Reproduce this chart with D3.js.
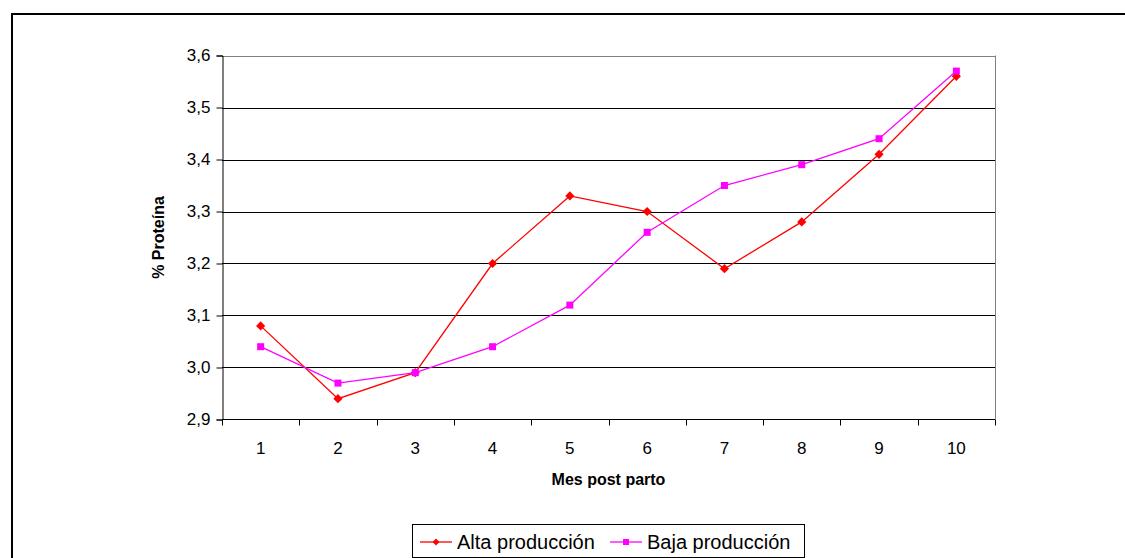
<!DOCTYPE html>
<html>
<head>
<meta charset="utf-8">
<script src="https://cdn.jsdelivr.net/npm/d3@7"></script>
<style>
  html, body { margin: 0; padding: 0; background: #fff; }
  svg { display: block; font-family: "Liberation Sans", Arial, sans-serif; }
</style>
</head>
<body>
<svg id="chart" width="1125" height="558"></svg>
<script>
// Months after calving
const months = [1, 2, 3, 4, 5, 6, 7, 8, 9, 10];
// Milk protein (%) by production level
const altaProduccion = [3.08, 2.94, 2.99, 3.20, 3.33, 3.30, 3.19, 3.28, 3.41, 3.56];
const bajaProduccion = [3.04, 2.97, 2.99, 3.04, 3.12, 3.26, 3.35, 3.39, 3.44, 3.57];
const yTicks = [2.9, 3.0, 3.1, 3.2, 3.3, 3.4, 3.5, 3.6];
const seriesNames = ["Alta producción", "Baja producción"];

const svg = d3.select("#chart");

// outer chart frame
svg.append("rect")
  .attr("x", 12).attr("y", 14)
  .attr("width", 1200).attr("height", 600)
  .attr("fill", "#fff").attr("stroke", "#000").attr("stroke-width", 2);

const plot = { left: 222, right: 995, top: 55.5, bottom: 419.5 };

const x = d3.scaleBand().domain(months).range([plot.left, plot.right]).padding(0);
const y = d3.scaleLinear().domain([2.9, 3.6]).range([plot.bottom, plot.top]);
const fmt = d => d3.format(".1f")(d).replace(".", ",");

// horizontal gridlines
svg.append("g")
  .selectAll("line")
  .data(yTicks.filter(t => t > 2.9))
  .join("line")
  .attr("x1", plot.left).attr("x2", plot.right)
  .attr("y1", d => Math.round(y(d)) + 0.5).attr("y2", d => Math.round(y(d)) + 0.5)
  .attr("stroke", d => d === 3.6 ? "#808080" : "#000")
  .attr("stroke-width", 1);

// right border of plot area
svg.append("line")
  .attr("x1", plot.right + 0.5).attr("x2", plot.right + 0.5)
  .attr("y1", plot.top).attr("y2", plot.bottom)
  .attr("stroke", "#808080").attr("stroke-width", 1);

// y axis
const yAxis = d3.axisLeft(y).tickValues(yTicks).tickFormat(fmt).tickSize(6).tickPadding(6);
const gy = svg.append("g")
  .attr("transform", `translate(${plot.left + 0.5},0)`)
  .call(yAxis);
gy.select(".domain").attr("stroke", "#000");
gy.selectAll(".tick line").attr("stroke", "#000");
gy.selectAll(".tick text")
  .attr("font-size", 17).attr("fill", "#000")
  .attr("font-family", "Liberation Sans, Arial, sans-serif");

// x axis with ticks between categories
const gx = svg.append("g")
  .attr("transform", `translate(0,${plot.bottom})`);
gx.append("line")
  .attr("x1", plot.left).attr("x2", plot.right)
  .attr("y1", 0).attr("y2", 0)
  .attr("stroke", "#000");
const boundaries = months.map(m => x(m)).concat([x(months[months.length - 1]) + x.bandwidth()]);
gx.selectAll("line.tk")
  .data(boundaries)
  .join("line")
  .attr("class", "tk")
  .attr("x1", d => Math.round(d) + 0.5).attr("x2", d => Math.round(d) + 0.5)
  .attr("y1", 0).attr("y2", 6)
  .attr("stroke", "#000");
gx.selectAll("text")
  .data(months)
  .join("text")
  .attr("x", d => x(d) + x.bandwidth() / 2)
  .attr("y", 34)
  .attr("text-anchor", "middle")
  .attr("font-size", 17)
  .text(d => d);

// axis titles
svg.append("text")
  .attr("x", (plot.left + plot.right) / 2)
  .attr("y", 485)
  .attr("text-anchor", "middle")
  .attr("font-size", 16).attr("font-weight", "bold")
  .text("Mes post parto");

svg.append("text")
  .attr("transform", `translate(164,${(plot.top + plot.bottom) / 2}) rotate(-90)`)
  .attr("text-anchor", "middle")
  .attr("font-size", 16).attr("font-weight", "bold")
  .text("% Proteína");

const cx = m => x(m) + x.bandwidth() / 2;
const line = d3.line().x((d, i) => cx(months[i])).y(d => y(d));

// diamond marker: square turned 45°
const diamond = d3.symbol().type(d3.symbolSquare).size(42);

// Alta producción series
svg.append("path")
  .datum(altaProduccion)
  .attr("d", line)
  .attr("fill", "none").attr("stroke", "#ff0000").attr("stroke-width", 1.3);
svg.append("g")
  .selectAll("path")
  .data(altaProduccion)
  .join("path")
  .attr("transform", (d, i) => `translate(${cx(months[i])},${y(d)}) rotate(45)`)
  .attr("d", diamond)
  .attr("fill", "#ff0000");

// Baja producción series
svg.append("path")
  .datum(bajaProduccion)
  .attr("d", line)
  .attr("fill", "none").attr("stroke", "#ff00ff").attr("stroke-width", 1.3);
svg.append("g")
  .selectAll("rect")
  .data(bajaProduccion)
  .join("rect")
  .attr("x", (d, i) => cx(months[i]) - 3.5)
  .attr("y", d => y(d) - 3.5)
  .attr("width", 7).attr("height", 7)
  .attr("fill", "#ff00ff");

// legend
const legend = svg.append("g");
legend.append("rect")
  .attr("x", 412.5).attr("y", 524.5)
  .attr("width", 392).attr("height", 33)
  .attr("fill", "#fff").attr("stroke", "#000").attr("stroke-width", 1);

const legendItems = [
  { name: seriesNames[0], color: "#ff0000", x0: 420, shape: "diamond" },
  { name: seriesNames[1], color: "#ff00ff", x0: 610, shape: "square" }
];
legendItems.forEach(it => {
  const ly = 542;
  legend.append("line")
    .attr("x1", it.x0).attr("x2", it.x0 + 32)
    .attr("y1", ly).attr("y2", ly)
    .attr("stroke", it.color).attr("stroke-width", 1.3);
  if (it.shape === "diamond") {
    legend.append("path")
      .attr("transform", `translate(${it.x0 + 16},${ly}) rotate(45)`)
      .attr("d", d3.symbol().type(d3.symbolSquare).size(24)).attr("fill", it.color);
  } else {
    legend.append("rect")
      .attr("x", it.x0 + 16 - 3).attr("y", ly - 3)
      .attr("width", 6).attr("height", 6).attr("fill", it.color);
  }
  legend.append("text")
    .attr("x", it.x0 + 37).attr("y", ly + 7)
    .attr("font-size", 20)
    .text(it.name);
});
</script>
</body>
</html>
